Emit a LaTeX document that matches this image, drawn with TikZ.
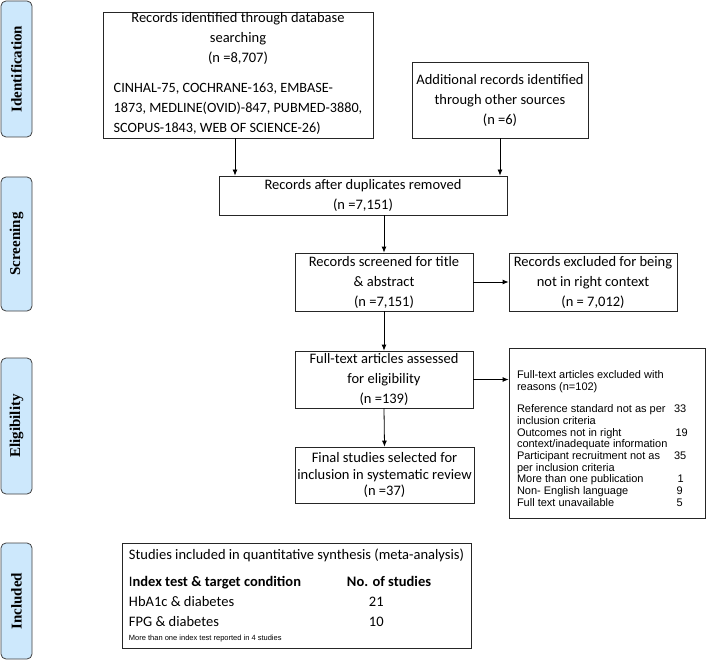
\documentclass[tikz,border=0pt]{standalone}
\usepackage{fontspec}
\setmainfont{Carlito}
\newfontfamily\arialfont{Liberation Sans}
\newfontfamily\timesfont{Liberation Serif}
\usetikzlibrary{arrows.meta}
\definecolor{stagefill}{RGB}{205,232,252}
\tikzset{
  box/.style={draw=black!85, line width=0.8pt, align=center, inner sep=0pt,
    font=\fontsize{14.5}{20}\selectfont},
  stage/.style={draw=black!75, line width=0.8pt, fill=stagefill, rounded corners=5pt,
    rotate=90, minimum height=31pt, inner sep=0pt,
    font=\timesfont\bfseries\fontsize{15}{15}\selectfont},
  arr/.style={line width=0.8pt, -{Latex[length=6pt,width=5pt]}}
}
\begin{document}
\begin{tikzpicture}[x=1pt,y=-1pt]
        \useasboundingbox (0,0) rectangle (706,660);
        % stages
        \node[stage, minimum width=136pt] (ident) at (16.5,69)  {Identification};
        \node[stage, minimum width=134pt] (scr)   at (16.5,244) {Screening};
        \node[stage, minimum width=136pt] (elig)  at (16.5,426) {Eligibility};
        \node[stage, minimum width=116pt] (incl)  at (16.5,601) {Included};
        % identification
        \node[box, minimum width=270pt, minimum height=126pt] (search) at (238,75)
             {Records identified through database\\ searching\\ (n =8,707)\\[10pt]
              \fontsize{14.2}{20}\selectfont
              \begin{tabular}[t]{@{}l@{}}CINHAL-75, COCHRANE-163, EMBASE-\\
              1873, MEDLINE(OVID)-847, PUBMED-3880,\\
              SCOPUS-1843, WEB OF SCIENCE-26)\end{tabular}};
        \node[box, minimum width=176pt, minimum height=76pt] (other) at (500,100)
             {Additional records identified\\ through other sources\\ (n =6)};
        % screening
        \node[box, minimum width=288pt, minimum height=39pt] (dedup) at (363,195.5)
             {Records after duplicates removed\\ (n =7,151)};
        \node[box, minimum width=178pt, minimum height=58pt] (screen) at (384,282)
             {Records screened for title\\ \& abstract\\ (n =7,151)};
        \node[box, minimum width=168pt, minimum height=58pt] (excl1) at (593,282)
             {Records excluded for being\\ not in right context\\ (n = 7,012)};
        % eligibility
        \node[box, minimum width=178pt, minimum height=57pt] (full) at (384,379.5)
             {Full-text articles assessed\\ for eligibility\\ (n =139)};
        \node[box, minimum width=196pt, minimum height=170pt,
              font=\arialfont\fontsize{11}{11.7}\selectfont] (excl2) at (607,433)
             {\begin{tabular}{@{}p{157pt}@{}l@{}}
              \multicolumn{2}{@{}p{180pt}@{}}{Full-text articles excluded with\newline reasons (n=102)}\\
              \noalign{\vskip 11pt}
              Reference standard not as per\newline inclusion criteria & 33\\
              Outcomes not in right\newline context/inadequate information & \hspace{1.5pt}19\\
              Participant recruitment not as\newline per inclusion criteria & 35\\
              More than one publication & \hspace{3.5pt}1\\
              Non- English language & \hspace{2.5pt}9\\
              Full text unavailable & \hspace{2.5pt}5\\
              \noalign{\vskip -14pt}
              \end{tabular}};
        \node[box, minimum width=179pt, minimum height=56pt,
              font=\fontsize{14.5}{16.5}\selectfont] (final) at (384.5,475)
             {Final studies selected for\\ inclusion in systematic review\\ (n =37)};
        % included
        \node[box, minimum width=349pt, minimum height=105pt] (synth) at (296.5,595.5)
             {\begin{tabular}{@{}p{218pt}@{}l@{}}
              \multicolumn{2}{@{}l@{}}{Studies included in quantitative synthesis (meta-analysis)}\\[7pt]
              I\textbf{ndex test \& target condition} & \textbf{No. of studies}\\
              HbA1c \& diabetes & \hspace{22pt}21\\
              FPG \& diabetes & \hspace{22pt}10\\[-6pt]
              \multicolumn{2}{@{}l@{}}{\arialfont\fontsize{7.5}{8}\selectfont More than one index test reported in 4 studies}
              \end{tabular}};
        % arrows
        \draw[arr] ([xshift=-3pt]search.south) -- ([xshift=-3pt]search.south |- dedup.north);
        \draw[arr] (other.south)  -- (other.south |- dedup.north);
        \draw[arr] (dedup.south -| screen.north) -- (screen.north);
        \draw[arr] (screen.east)  -- (excl1.west);
        \draw[arr] (screen.south) -- (full.north);
        \draw[arr] (full.east)    -- (full.east -| excl2.west);
        \draw[arr] (full.south)   -- (final.north);
\end{tikzpicture}
\end{document}
